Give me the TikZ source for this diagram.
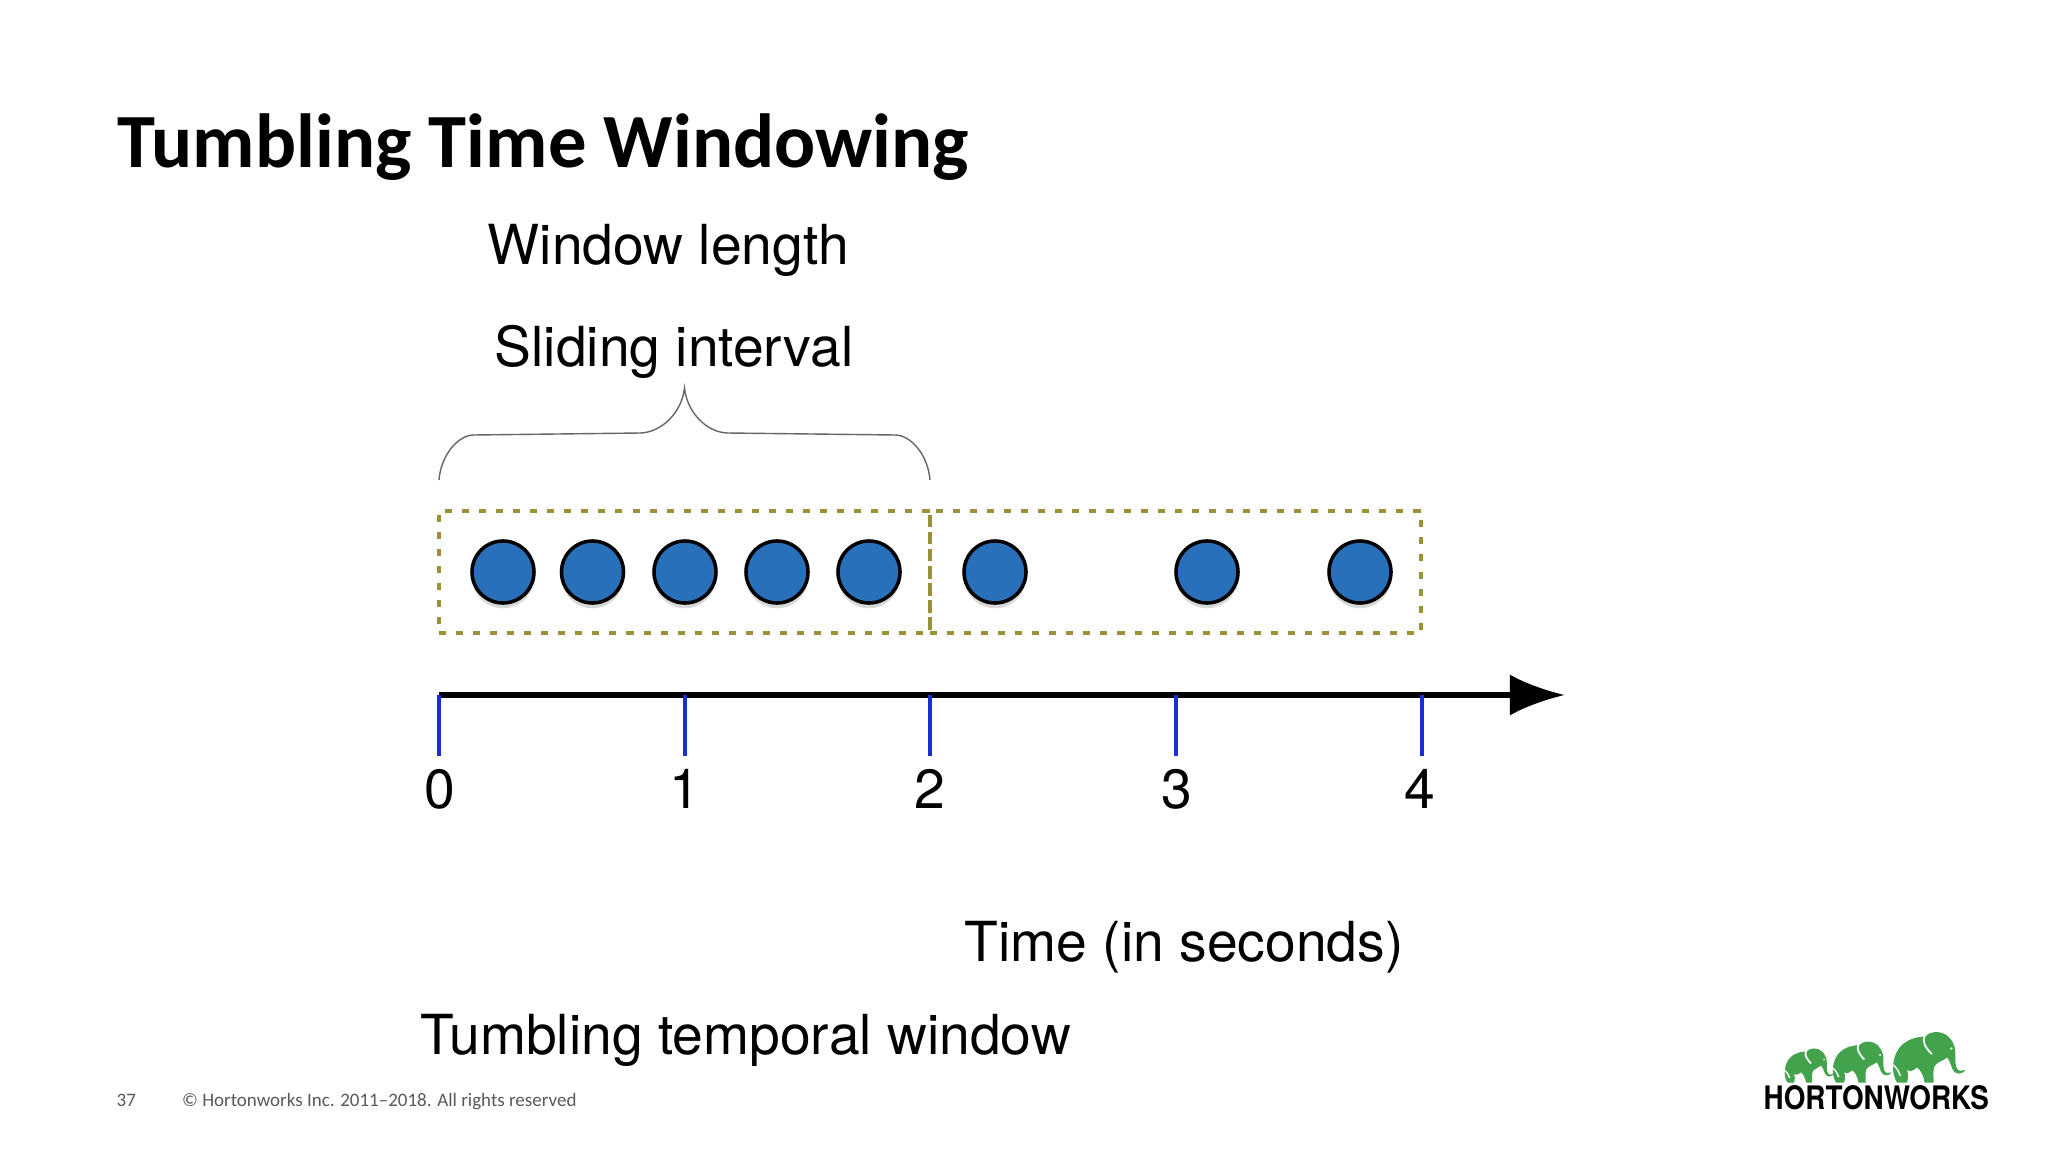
\documentclass[tikz,border=0pt]{standalone}
\usepackage{fontspec}
\setmainfont{TeX Gyre Heros}
\newfontfamily\slidefont{Carlito}
\newfontfamily\logofont{TeX Gyre Heros}
\usetikzlibrary{arrows.meta,shadows}

\definecolor{eventblue}{HTML}{2870BA}
\definecolor{windowolive}{HTML}{9A9038}
\definecolor{tickblue}{HTML}{1A2FD0}
\definecolor{logogreen}{HTML}{43A34C}
\definecolor{footgray}{HTML}{595959}

\tikzstyle{event}=[circle,
    line width=1pt,
    minimum size=0.62cm,
    inner sep=0pt,
    draw=black,
    fill=eventblue,
    drop shadow={shadow xshift=0pt,shadow yshift=-1.5pt,opacity=0.3}]
\tikzstyle{window}=[rectangle,
    line width=1.05pt,
    minimum height=1.22cm,
    inner sep=0pt,
    draw=windowolive,
    dash pattern=on 2pt off 2.85pt]
\tikzstyle{caption}=[anchor=base west,inner sep=0pt,font=\fontsize{15.7pt}{18pt}\selectfont]
\tikzstyle{ticklabel}=[anchor=base,inner sep=0pt,font=\fontsize{15.7pt}{18pt}\selectfont]
\tikzstyle{tick}=[draw=tickblue,line width=1pt]
\tikzstyle{axis}=[draw=black,line width=1.7pt,-{Latex[length=0.55cm,width=0.41cm]}]
\tikzstyle{footer}=[anchor=base west,inner sep=0pt,text=footgray,font=\slidefont\fontsize{5.4pt}{7pt}\selectfont]

\newcommand{\elephant}[2]{
    \begin{scope}[shift={#1},scale=#2]
        \fill[logogreen] (15,0) .. controls (-5,-30) and (0,-85) .. (30,-113)
            .. controls (55,-135) and (85,-138) .. (100,-138)
            .. controls (115,-155) and (150,-158) .. (172,-135)
            .. controls (190,-115) and (192,-95) .. (190,-70)
            .. controls (190,-50) and (195,-35) .. (205,-35)
            .. controls (212,-35) and (215,-38) .. (220,-38)
            .. controls (215,-25) and (190,-20) .. (182,-40)
            .. controls (175,-55) and (172,-70) .. (165,-75)
            .. controls (155,-65) and (140,-65) .. (128,-50)
            .. controls (122,-35) and (125,-15) .. (125,0)
            -- (98,0) .. controls (95,-20) and (85,-40) .. (75,-45)
            .. controls (65,-35) and (50,-30) .. (45,-40)
            .. controls (50,-25) and (48,-10) .. (45,0) -- cycle;
        \draw[white,line width=0.5pt] (98,-140) .. controls (92,-125) and (95,-110) .. (120,-85);
        \draw[white,line width=0.4pt] (0,-55) .. controls (10,-50) and (20,-35) .. (25,-20);
        \fill[white] (178,-102) circle (4);
    \end{scope}
}

\begin{document}
\begin{tikzpicture}[x=0.01cm,y=-0.01cm]
    \useasboundingbox (0,0) rectangle (2048,1152);
    \fill[white] (0,0) rectangle (2048,1152);

    \node (title) [anchor=base west,inner sep=0pt,font=\slidefont\bfseries\fontsize{21.8pt}{24pt}\selectfont] at (117,168) {Tumbling Time Windowing};
    \node (length) [caption] at (487,265) {Window length};
    \node (sliding) [caption] at (494,367) {Sliding interval};

    \coordinate (braceleft) at (439,480);
    \coordinate (bracetip) at (684.5,388);
    \coordinate (braceright) at (930,480);
    \draw [draw=black!60,line width=0.4pt] (braceleft)
        .. controls (441,455) and (458,435) .. (474,435) -- (641,433)
        .. controls (662,432) and (682,412) .. (bracetip)
        .. controls (687,412) and (706,432) .. (727,433) -- (895,435)
        .. controls (911,435) and (928,455) .. (braceright);

    \node (winone) [window,minimum width=4.91cm] at (684.5,572) {};
    \node (wintwo) [window,minimum width=4.91cm] at (1175.5,572) {};

    \node (e1) [event] at (503,572) {};
    \node (e2) [event] at (592.5,572) {};
    \node (e3) [event] at (685,572) {};
    \node (e4) [event] at (777,572) {};
    \node (e5) [event] at (869,572) {};
    \node (e6) [event] at (995,572) {};
    \node (e7) [event] at (1207,572) {};
    \node (e8) [event] at (1360,572) {};

    \coordinate (axisstart) at (439,695);
    \coordinate (axisend) at (1565,695);
    \draw [axis] (axisstart) -- (axisend);

    \coordinate (t0) at (439,695);
    \coordinate (t1) at (685,695);
    \coordinate (t2) at (930,695);
    \coordinate (t3) at (1176,695);
    \coordinate (t4) at (1422,695);
    \node (l0) [ticklabel] at (440,808) {0};
    \node (l1) [ticklabel] at (685,808) {1};
    \node (l2) [ticklabel] at (930,808) {2};
    \node (l3) [ticklabel] at (1177,808) {3};
    \node (l4) [ticklabel] at (1420,808) {4};
    \coordinate (b0) at (439,756);
    \coordinate (b1) at (685,756);
    \coordinate (b2) at (930,756);
    \coordinate (b3) at (1176,756);
    \coordinate (b4) at (1422,756);
    \draw [tick] (t0) -- (b0);
    \draw [tick] (t1) -- (b1);
    \draw [tick] (t2) -- (b2);
    \draw [tick] (t3) -- (b3);
    \draw [tick] (t4) -- (b4);

    \node (timelabel) [caption] at (964,961) {Time (in seconds)};
    \node (tumbling) [caption] at (420,1054) {Tumbling temporal window};

    \node (page) [footer] at (116,1106) {37};
    \node (copyright) [footer] at (181.5,1106) {© Hortonworks Inc. 2011–2018. All rights reserved};

    \elephant{(1784,1082.5)}{0.225}
    \elephant{(1832,1082.5)}{0.27}
    \elephant{(1892,1082.5)}{0.333}
    \node (logotext) [anchor=base west,inner sep=0pt,font=\logofont\bfseries\fontsize{9.2pt}{10pt}\selectfont] at (1763,1109) {\scalebox{0.86}[1]{HORTONWORKS}};
    \node (logomark) [anchor=base west,inner sep=0pt,font=\logofont\fontsize{2.5pt}{3pt}\selectfont] at (1979,1092) {®};
\end{tikzpicture}
\end{document}
